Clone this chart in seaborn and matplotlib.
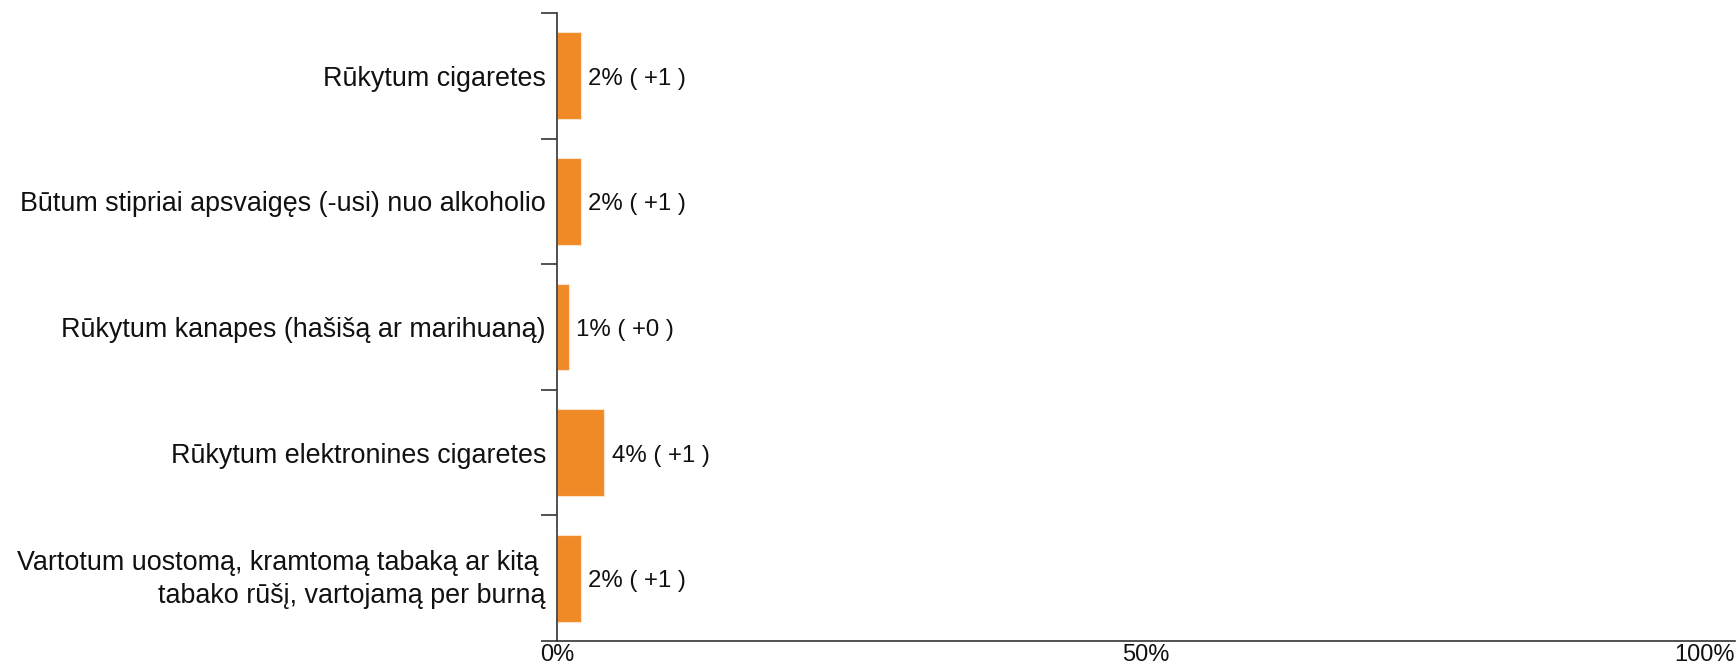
import matplotlib
matplotlib.use("Agg")
import matplotlib.pyplot as plt
import matplotlib.transforms as mtransforms
import seaborn as sns
import pandas as pd

# data
categories = [
    "Rūkytum cigaretes",
    "Būtum stipriai apsvaigęs (-usi) nuo alkoholio",
    "Rūkytum kanapes (hašišą ar marihuaną)",
    "Rūkytum elektronines cigaretes",
    "Vartotum uostomą, kramtomą tabaką ar kitą \ntabako rūšį, vartojamą per burną",
]
values = [2, 2, 1, 4, 2]
changes = ["+1", "+1", "+0", "+1", "+1"]
x_ticks = [0, 50, 100]
x_tick_labels = ["0%", "50%", "100%"]

sns.set_theme(style="white")
plt.rcParams["font.family"] = ["Liberation Sans", "DejaVu Sans"]

df = pd.DataFrame({"category": categories, "value": values})

fig = plt.figure(figsize=(17.36, 6.64), dpi=100)
ax = fig.add_axes([557 / 1736, 1 - 641 / 664, 1 - 557 / 1736 - 0.0006, (641 - 13) / 664])

sns.barplot(data=df, x="value", y="category", orient="h", color="#EF8A27",
            saturation=1, width=0.69, edgecolor="#FBE3CC", linewidth=0.8, ax=ax)

# value labels, nudged a few pixels down
down = mtransforms.ScaledTranslation(0, -3 / 100, fig.dpi_scale_trans)
for i, (v, c) in enumerate(zip(values, changes)):
    ax.text(v + 0.65, i, f"{v}% ( {c} )", va="center", ha="left", fontsize=17.3,
            color="#111111", transform=ax.transData + down)

ax.set_xlim(0, 100)
ax.set_ylim(len(categories) - 0.5, -0.5)
ax.set_xlabel("")
ax.set_ylabel("")

ax.set_xticks(x_ticks)
ax.set_xticklabels(x_tick_labels, fontsize=17, color="#111111")
ax.tick_params(axis="x", length=0, pad=2)
ax.get_xticklabels()[-1].set_horizontalalignment("right")

ax.set_yticks(range(len(categories)))
ax.set_yticklabels(categories, fontsize=19.4, color="#111111", linespacing=1.32)
ax.tick_params(axis="y", which="major", length=0, pad=8)
ax.set_yticks([i - 0.5 for i in range(len(categories) + 1)], minor=True)
ax.tick_params(axis="y", which="minor", length=11.5, width=1.2, color="#333333", left=True)

# the two-line label sits a little higher in the reference
up = mtransforms.ScaledTranslation(0, 5 / 100, fig.dpi_scale_trans)
last = ax.get_yticklabels()[-1]
last.set_transform(last.get_transform() + up)

for side in ["top", "right"]:
    ax.spines[side].set_visible(False)
for side in ["left", "bottom"]:
    ax.spines[side].set_color("#333333")
    ax.spines[side].set_linewidth(1.2)
ax.grid(False)

fig.savefig("out.png", dpi=100)
